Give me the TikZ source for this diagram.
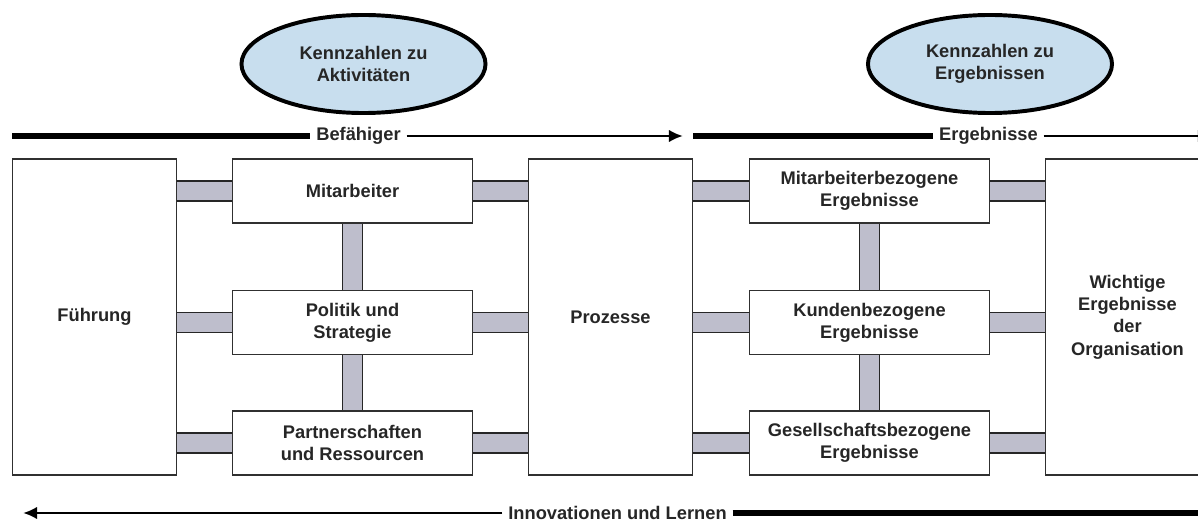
\documentclass[tikz,border=0pt]{standalone}
\usepackage{fontspec}
\setmainfont{Liberation Sans}
\usetikzlibrary{arrows.meta,backgrounds,shapes.geometric}

\definecolor{barfill}{RGB}{190,190,204}
\definecolor{kpifill}{RGB}{200,222,238}
\definecolor{edge}{RGB}{48,48,48}

\begin{document}
\begin{tikzpicture}[
  x=0.025cm, y=-0.025cm,
  every node/.style={font=\fontsize{13}{15.8}\selectfont\bfseries, text=black!85, align=center},
  big/.style={draw=edge, line width=1.3pt, fill=white, minimum width=4.1cm, minimum height=7.9cm, inner sep=0pt},
  crit/.style={draw=edge, line width=1.3pt, fill=white, minimum width=6.0cm, minimum height=1.6cm, inner sep=0pt},
  kpi/.style={ellipse, draw=black, line width=2.8pt, fill=kpifill, minimum width=6.1cm, minimum height=2.45cm, inner sep=0pt},
  bar/.style={draw=black!85, line width=1.1pt, double=barfill, double distance=0.47cm},
  fat/.style={line width=4.2pt, black},
  slim/.style={line width=2.1pt, black},
  tip/.style={-{Latex[length=10pt, width=9pt]}},
  lbl/.style={inner xsep=4pt, inner ysep=1pt},
]
\useasboundingbox (0,0) rectangle (1198,524);
% ---------------- key figures ----------------
\node[kpi] (kpiakt) at (363.5,64) {Kennzahlen zu\\Aktivitäten};
\node[kpi] (kpierg) at (990,64) {Kennzahlen zu\\Ergebnissen};
% ---------------- enablers / results ----------------
\coordinate (befS) at (12,136);   \coordinate (befE) at (683,136);
\coordinate (ergS) at (693,136);  \coordinate (ergE) at (1212,136);
\node[lbl] (bef) at (358.5,136) {Befähiger};
\node[lbl] (erg) at (988.5,136) {Ergebnisse};
\draw[fat] (befS) -- (bef.west);
\draw[slim, tip] (bef.east) -- (befE);
\draw[fat] (ergS) -- (erg.west);
\draw[slim, tip] (erg.east) -- (ergE);
% ---------------- criteria ----------------
\node[big] (fue) at (94.5,317) {Führung};
\node[crit] (mit) at (352.5,191) {Mitarbeiter};
\node[crit] (pol) at (352.5,322.5) {Politik und\\Strategie};
\node[crit] (par) at (352.5,443) {Partnerschaften\\und Ressourcen};
\node[big] (pro) at (610.5,317) {Prozesse};
\node[crit] (mab) at (869.5,191) {Mitarbeiterbezogene\\Ergebnisse};
\node[crit] (kun) at (869.5,322.5) {Kundenbezogene\\Ergebnisse};
\node[crit] (ges) at (869.5,443) {Gesellschaftsbezogene\\Ergebnisse};
\node[big] (wic) at (1127.5,317) {Wichtige\\Ergebnisse\\der\\Organisation};
% ---------------- bars ----------------
\begin{scope}[on background layer]
  \foreach \l/\r in {mit/mab, pol/kun, par/ges}{
    \draw[bar] (fue.east |- \l.west) -- (\l.west);
    \draw[bar] (\l.east) -- (pro.west |- \l.east);
    \draw[bar] (pro.east |- \r.west) -- (\r.west);
    \draw[bar] (\r.east) -- (wic.west |- \r.east);
  }
  \draw[bar] (mit) -- (pol);  \draw[bar] (pol) -- (par);
  \draw[bar] (mab) -- (kun);  \draw[bar] (kun) -- (ges);
\end{scope}
% ---------------- learning ----------------
\coordinate (innS) at (23,513);  \coordinate (innE) at (1205,513);
\node[lbl] (inn) at (617.5,513) {Innovationen und Lernen};
\draw[slim, tip] (inn.west) -- (innS);
\draw[fat] (inn.east) -- (innE);
\end{tikzpicture}
\end{document}
